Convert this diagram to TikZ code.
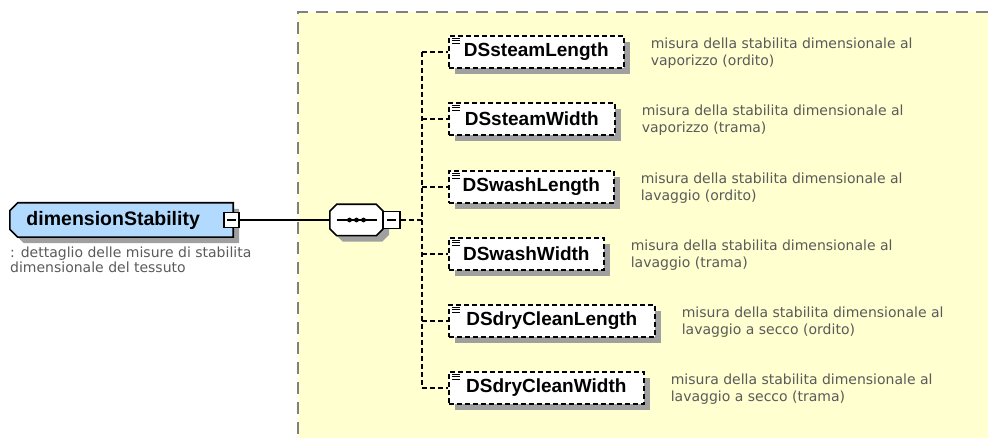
\documentclass[tikz,border=0pt]{standalone}
\usepackage{fontspec}
\setmainfont{Liberation Sans}
\newfontfamily\descfont{DejaVu Sans}
\usetikzlibrary{positioning, shadows}
\definecolor{paleyellow}{RGB}{255,255,208}
\definecolor{typeblue}{RGB}{178,218,255}
\definecolor{shadowgray}{RGB}{160,160,160}
\definecolor{descgray}{RGB}{90,90,90}
\pgfdeclarelayer{back}
\pgfsetlayers{back,main}
\tikzset{
  wire/.style={line width=1.6pt},
  dropshade/.style={drop shadow={shadow xshift=6pt, shadow yshift=-6pt, fill=shadowgray, opacity=1}},
  elem/.style={draw, wire, dash pattern=on 5pt off 3pt, fill=white, dropshade, minimum height=32pt,
    inner xsep=0pt, font=\fontsize{19}{20}\selectfont\bfseries, anchor=west},
  minusbox/.style={draw, wire, fill=white, minimum size=15pt, inner sep=0pt},
  desc/.style={font=\descfont\fontsize{14}{17}\selectfont, text=descgray, align=left, inner sep=0pt},
  link/.style={wire, dash pattern=on 5pt off 3pt},
  outline/.style={draw, wire, dropshade}
}
\newcommand{\elemicon}[1]{\draw[line width=0.9pt, solid] ([shift={(4,3)}]#1.north west) -- +(8,0)
  ([shift={(4,5.5)}]#1.north west) -- +(8,0) ([shift={(4,8)}]#1.north west) -- +(8,0);}

\begin{document}
\begin{tikzpicture}[x=1pt, y=-1pt]
            \useasboundingbox (0,0) rectangle (988,438);
            % group area
            \begin{pgfonlayer}{back}
                \fill [paleyellow] (298,12) rectangle (988,438);
                \draw [gray, wire, dash pattern=on 12pt off 8pt] (988,12) -- (298,12) -- (298,438);
            \end{pgfonlayer}

            \node [minimum width=223pt, minimum height=34pt, inner sep=0pt,
                font=\fontsize{19.5}{20}\selectfont\bfseries] (root) at (121.5,220) {\makebox[190pt][l]{dimensionStability}};
            \begin{pgfonlayer}{back}
                \path [outline, fill=typeblue] ([shift={(8,0)}]root.north west) -- (root.north east) -- (root.south east)
                    -- ([shift={(8,0)}]root.south west) -- ([shift={(0,-8)}]root.south west) -- ([shift={(0,8)}]root.north west) -- cycle;
            \end{pgfonlayer}
            \node [minusbox] (rootMinus) at (231.5,220) {};
            \draw [wire] ([xshift=-4.5pt]rootMinus.center) -- ([xshift=4.5pt]rootMinus.center);
            \node [desc, font=\descfont\fontsize{14}{15}\selectfont, anchor=north west] (rootDesc) at (10,247)
                {: dettaglio delle misure di stabilita\\dimensionale del tessuto};

            % sequence
            \node [minimum width=53pt, minimum height=31pt, inner sep=0pt] (seq) at (356.5,220) {};
            \begin{pgfonlayer}{back}
                \path [outline, fill=white] ([shift={(7,0)}]seq.north west) -- ([shift={(-7,0)}]seq.north east)
                    -- ([shift={(0,7)}]seq.north east) -- ([shift={(0,-7)}]seq.south east) -- ([shift={(-7,0)}]seq.south east)
                    -- ([shift={(7,0)}]seq.south west) -- ([shift={(0,-7)}]seq.south west) -- ([shift={(0,7)}]seq.north west) -- cycle;
            \end{pgfonlayer}
            \draw [wire] ([xshift=-20pt]seq.center) -- ([xshift=20pt]seq.center);
            \fill ([xshift=-7pt]seq.center) circle (2.4pt) (seq.center) circle (2.4pt) ([xshift=7pt]seq.center) circle (2.4pt);
            \node [minusbox, minimum size=17pt] (seqMinus) at (391.5,220) {};
            \draw [wire] ([xshift=-4.5pt]seqMinus.center) -- ([xshift=4.5pt]seqMinus.center);
            \draw [wire] (rootMinus.east) -- (seq.west);

            \coordinate (busTop) at (422,52);
            \coordinate (busMid) at (422,220);
            \coordinate (busBot) at (422,388);
            \draw [link] (seqMinus.east) -- (busMid);
            \draw [link] (busTop) -- (busBot);

            % elements
            \node [elem, minimum width=175pt] (steamL) at (448,52) {DSsteamLength};
            \node [elem, minimum width=166pt] (steamW) at (448,119) {DSsteamWidth};
            \node [elem, minimum width=165pt] (washL) at (448,187) {DSwashLength};
            \node [elem, minimum width=155pt] (washW) at (448,254) {DSwashWidth};
            \node [elem, minimum width=206pt] (dryL) at (448,321) {DSdryCleanLength};
            \node [elem, minimum width=195pt] (dryW) at (448,388) {DSdryCleanWidth};
            \elemicon{steamL}
            \elemicon{steamW}
            \elemicon{washL}
            \elemicon{washW}
            \elemicon{dryL}
            \elemicon{dryW}

            \draw [link] (busTop) -- (steamL.west);
            \draw [link] (steamW.west -| busTop) -- (steamW.west);
            \draw [link] (washL.west -| busTop) -- (washL.west);
            \draw [link] (washW.west -| busTop) -- (washW.west);
            \draw [link] (dryL.west -| busTop) -- (dryL.west);
            \draw [link] (busBot) -- (dryW.west);

            \node [desc, right=26pt of steamL, yshift=-1.5pt] (steamLDesc) {misura della stabilita dimensionale al\\vaporizzo (ordito)};
            \node [desc, right=26pt of steamW, yshift=-1.5pt] (steamWDesc) {misura della stabilita dimensionale al\\vaporizzo (trama)};
            \node [desc, right=26pt of washL, yshift=-1.5pt] (washLDesc) {misura della stabilita dimensionale al\\lavaggio (ordito)};
            \node [desc, right=26pt of washW, yshift=-1.5pt] (washWDesc) {misura della stabilita dimensionale al\\lavaggio (trama)};
            \node [desc, right=26pt of dryL, yshift=-1.5pt] (dryLDesc) {misura della stabilita dimensionale al\\lavaggio a secco (ordito)};
            \node [desc, right=26pt of dryW, yshift=-1.5pt] (dryWDesc) {misura della stabilita dimensionale al\\lavaggio a secco (trama)};
        \end{tikzpicture}
\end{document}
